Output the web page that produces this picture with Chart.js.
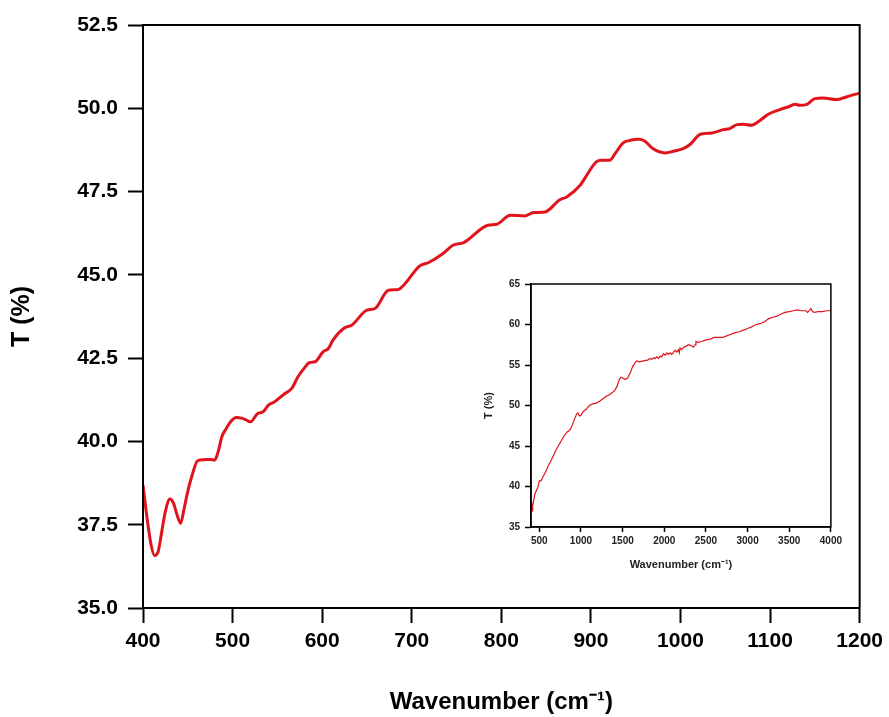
<!DOCTYPE html>
<html>
<head>
<meta charset="utf-8">
<script src="https://cdn.jsdelivr.net/npm/chart.js@4.4.1/dist/chart.umd.min.js"></script>
<style>
  html, body { margin: 0; padding: 0; background: #fff; }
  #wrap { position: relative; width: 889px; height: 717px; }
  #main { position: absolute; left: 0; top: 0; }
  #inset { position: absolute; left: 470px; top: 270px; }
</style>
</head>
<body>
<div id="wrap">
  <canvas id="main" width="889" height="717"></canvas>
  <canvas id="inset" width="375" height="310"></canvas>
</div>
<script>
// ---- Main spectrum (400-1200 cm-1) ----
const mainWavenumber = [400,405,409,413,417,421,425,430,434,438,442,446,450,455,461,468,475,480,484,488,493,498,504,510,514,520,528,534,540,547,557,566,573,580,586,592,601,607,612,625,633,650,659,674,685,691,709,719,735,746,758,785,795,810,826,836,849,865,873,888,893,906,912,921,927,936,944,953,960,969,983,992,1003,1011,1022,1035,1048,1055,1063,1070,1079,1089,1098,1111,1122,1128,1133,1141,1150,1159,1174,1185,1198,1200];
const mainTransmittance = [38.69,37.6,36.9,36.57,36.7,37.3,37.9,38.27,38.15,37.8,37.54,38.0,38.5,39.0,39.42,39.45,39.46,39.44,39.7,40.14,40.39,40.6,40.72,40.70,40.66,40.59,40.84,40.89,41.09,41.19,41.41,41.59,41.94,42.2,42.37,42.39,42.69,42.79,43.04,43.41,43.49,43.94,43.99,44.54,44.56,44.69,45.27,45.37,45.64,45.89,45.97,46.49,46.52,46.79,46.77,46.87,46.89,47.25,47.34,47.69,47.89,48.39,48.44,48.44,48.64,48.96,49.04,49.07,49.02,48.79,48.66,48.71,48.79,48.92,49.22,49.26,49.36,49.39,49.51,49.52,49.49,49.64,49.82,49.96,50.06,50.12,50.09,50.12,50.29,50.31,50.26,50.34,50.44,50.45];
const mainXTicks = [400,500,600,700,800,900,1000,1100,1200];
const mainYTicks = [35.0,37.5,40.0,42.5,45.0,47.5,50.0,52.5];

// ---- Inset spectrum (400-4000 cm-1) ----
const insetWavenumber = [400,405,410,415,420,430,445,460,480,500,520,540,560,580,600,650,700,750,800,830,860,880,900,930,950,965,980,1000,1030,1060,1100,1140,1180,1220,1260,1300,1350,1400,1430,1460,1480,1500,1530,1560,1590,1620,1650,1670,1700,1750,1800,1830,1850,1870,1890,1910,1930,1950,1970,1990,2010,2030,2050,2070,2090,2110,2130,2150,2170,2180,2190,2210,2230,2260,2290,2320,2350,2370,2380,2400,2450,2500,2550,2600,2650,2700,2750,2800,2850,2900,2950,3000,3050,3100,3150,3200,3250,3300,3350,3400,3450,3500,3550,3600,3650,3700,3720,3740,3760,3780,3800,3850,3900,3950,4000];
const insetTransmittance = [38.2,37.2,38.0,37.0,37.6,38.1,39.0,39.4,39.8,40.7,40.7,41.1,41.5,41.9,42.4,43.4,44.5,45.4,46.3,46.7,46.9,47.2,47.7,48.5,49.0,49.1,48.7,48.8,49.3,49.5,50.0,50.2,50.3,50.5,50.8,51.1,51.4,51.8,52.3,53.2,53.5,53.4,53.2,53.4,54.0,54.8,55.3,55.5,55.4,55.5,55.6,55.8,55.7,55.9,55.8,56.0,55.8,56.1,56.0,56.4,56.2,56.5,56.3,56.5,56.3,56.6,56.8,56.6,56.9,56.5,57.1,56.9,57.2,57.3,57.5,57.4,57.2,57.5,57.9,57.8,57.9,58.1,58.2,58.4,58.4,58.4,58.6,58.8,59.0,59.1,59.3,59.5,59.7,60.0,60.1,60.3,60.7,60.9,61.0,61.3,61.5,61.6,61.7,61.8,61.7,61.7,61.5,61.7,62.0,61.6,61.5,61.6,61.6,61.7,61.7];
const insetXTicks = [500,1000,1500,2000,2500,3000,3500,4000];
const insetYTicks = [35,40,45,50,55,60,65];

const toPoints = (xs, ys) => xs.map((x, i) => ({ x: x, y: ys[i] }));

const framePlugin = {
  id: 'frame',
  afterDraw(chart, args, opts) {
    const { ctx, chartArea: a } = chart;
    ctx.save();
    ctx.strokeStyle = '#000';
    ctx.lineWidth = opts.width || 2;
    ctx.strokeRect(a.left, a.top, a.right - a.left, a.bottom - a.top);
    ctx.restore();
  }
};

const FONT = "Arial, 'Liberation Sans', sans-serif";

new Chart(document.getElementById('main'), {
  type: 'line',
  data: {
    datasets: [{
      data: toPoints(mainWavenumber, mainTransmittance),
      borderColor: '#e0141c',
      borderWidth: 3,
      pointRadius: 0,
      fill: false,
      cubicInterpolationMode: 'monotone'
    }]
  },
  options: {
    responsive: false,
    animation: false,
    layout: { padding: { top: 25, right: 29, left: 0, bottom: 0 } },
    plugins: { legend: { display: false }, tooltip: { enabled: false }, frame: { width: 2 } },
    scales: {
      x: {
        type: 'linear', min: 400, max: 1200,
        afterFit: s => { s.height = 109; },
        afterBuildTicks: s => { s.ticks = mainXTicks.map(v => ({ value: v })); },
        grid: { drawOnChartArea: false, tickLength: 15, tickWidth: 2, tickColor: '#000' },
        border: { color: '#000', width: 2 },
        ticks: { color: '#000', padding: 6, maxRotation: 0, callback: v => String(v), font: { family: FONT, size: 21, weight: 'bold' } },
        title: { display: true, text: 'Wavenumber (cm⁻¹)', color: '#000', padding: { top: 0, bottom: 0 }, font: { family: FONT, size: 24, weight: 'bold' } }
      },
      y: {
        type: 'linear', min: 35, max: 52.5,
        afterFit: s => { s.width = 143; },
        afterBuildTicks: s => { s.ticks = mainYTicks.map(v => ({ value: v })); },
        grid: { drawOnChartArea: false, tickLength: 15, tickWidth: 2, tickColor: '#000' },
        border: { color: '#000', width: 2 },
        ticks: { color: '#000', padding: 10, callback: v => Number(v).toFixed(1), font: { family: FONT, size: 21, weight: 'bold' } },
        title: { display: true, text: 'T (%)', color: '#000', padding: { top: 7, bottom: 0 }, font: { family: FONT, size: 25, weight: 'bold' } }
      }
    }
  },
  plugins: [framePlugin]
});

new Chart(document.getElementById('inset'), {
  type: 'line',
  data: {
    datasets: [{
      data: toPoints(insetWavenumber, insetTransmittance),
      borderColor: '#e0141c',
      borderWidth: 1.2,
      pointRadius: 0,
      fill: false,
      tension: 0
    }]
  },
  options: {
    responsive: false,
    animation: false,
    layout: { padding: { top: 14, right: 14, left: 0, bottom: 0 } },
    plugins: { legend: { display: false }, tooltip: { enabled: false }, frame: { width: 1.5 } },
    scales: {
      x: {
        type: 'linear', min: 400, max: 4000,
        afterFit: s => { s.height = 53; },
        afterBuildTicks: s => { s.ticks = insetXTicks.map(v => ({ value: v })); },
        grid: { drawOnChartArea: false, tickLength: 5, tickWidth: 1.5, tickColor: '#000' },
        border: { color: '#000', width: 1.5 },
        ticks: { color: '#222', padding: 3, maxRotation: 0, callback: v => String(v), font: { family: FONT, size: 10, weight: 'bold' } },
        title: { display: true, text: 'Wavenumber (cm⁻¹)', color: '#222', padding: { top: 0, bottom: 8 }, font: { family: FONT, size: 11, weight: 'bold' } }
      },
      y: {
        type: 'linear', min: 35, max: 65,
        afterFit: s => { s.width = 61; },
        afterBuildTicks: s => { s.ticks = insetYTicks.map(v => ({ value: v })); },
        grid: { drawOnChartArea: false, tickLength: 6, tickWidth: 1.5, tickColor: '#000' },
        border: { color: '#000', width: 1.5 },
        ticks: { color: '#222', padding: 5, font: { family: FONT, size: 10, weight: 'bold' } },
        title: { display: true, text: 'T (%)', color: '#222', padding: { top: 12, bottom: 0 }, font: { family: FONT, size: 11, weight: 'bold' } }
      }
    }
  },
  plugins: [framePlugin]
});
</script>
</body>
</html>
